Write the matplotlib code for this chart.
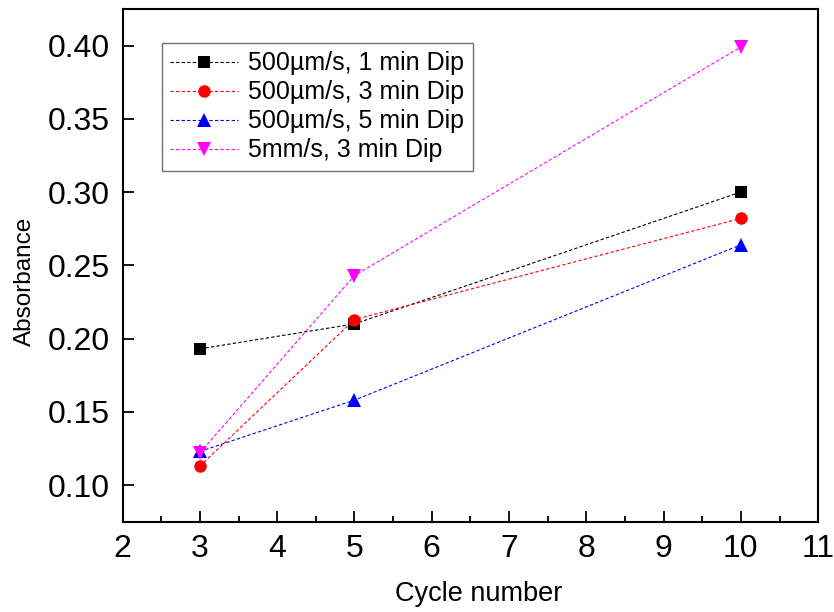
import matplotlib.pyplot as plt
from matplotlib.ticker import MultipleLocator

plt.rcParams['font.family'] = ['Liberation Sans', 'DejaVu Sans']

cycles = [3, 5, 10]
dip_1min = [0.193, 0.210, 0.300]
dip_3min = [0.113, 0.213, 0.282]
dip_5min = [0.123, 0.158, 0.264]
fast_3min = [0.122, 0.243, 0.399]

series = [
    (dip_1min, "500\u00b5m/s, 1 min Dip", "black", "s", 8.5),
    (dip_3min, "500\u00b5m/s, 3 min Dip", "red", "o", 9),
    (dip_5min, "500\u00b5m/s, 5 min Dip", "blue", "^", 10),
    (fast_3min, "5mm/s, 3 min Dip", "magenta", "v", 10),
]

fig = plt.figure(figsize=(8.34, 6.12), dpi=100)
ax = fig.add_axes([0.147, 0.1475, 0.834, 0.838])

for vals, label, col, mk, ms in series:
    ax.plot(cycles, vals, linestyle=(0, (3, 2)), linewidth=0.8, color=col,
            marker=mk, markersize=ms, markeredgewidth=0, label=label)

ax.set_xlim(2, 11)
ax.set_ylim(0.075, 0.425)
ax.xaxis.set_major_locator(MultipleLocator(1))
ax.xaxis.set_minor_locator(MultipleLocator(0.5))
ax.yaxis.set_major_locator(MultipleLocator(0.05))
ax.yaxis.set_major_formatter(plt.FormatStrFormatter('%.2f'))

ax.tick_params(which='both', direction='in', top=False, right=False,
               labelsize=23, width=1.3)
ax.tick_params(which='major', length=8, pad=9)
ax.tick_params(which='minor', length=4)
for sp in ax.spines.values():
    sp.set_linewidth(1.5)

ax.set_xlabel("Cycle number", fontsize=19.5)
ax.set_ylabel("Absorbance", fontsize=17.5)
ax.xaxis.set_label_coords(0.5125, -0.115)
ax.yaxis.set_label_coords(-0.125, 0.469)

leg = ax.legend(loc='upper left', bbox_to_anchor=(0.056, 0.934), borderaxespad=0,
                fontsize=18, numpoints=1, handlelength=2.7, fancybox=False,
                framealpha=1, borderpad=0.35, labelspacing=0.2, handletextpad=0.4)
leg.get_frame().set_edgecolor('#707070')
leg.get_frame().set_linewidth(1.0)

fig.savefig("out.png", dpi=100)
